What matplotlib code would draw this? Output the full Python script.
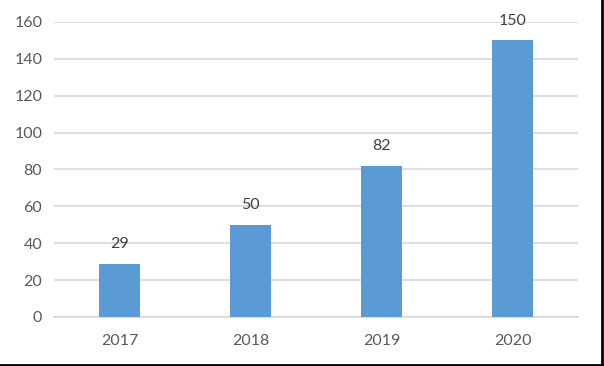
import matplotlib
matplotlib.use("Agg")
import matplotlib.pyplot as plt
from matplotlib.lines import Line2D

years = ["2017", "2018", "2019", "2020"]
values = [29, 50, 82, 150]
yticks = [0, 20, 40, 60, 80, 100, 120, 140, 160]

plt.rcParams['font.family'] = ['Lato', 'DejaVu Sans']
fig = plt.figure(figsize=(6.04, 3.66), dpi=100)
ax = fig.add_axes([0.0894, 0.1339, 0.957 - 0.0894, 0.9399 - 0.1339])

x = range(len(years))
ax.bar(x, values, width=0.31, color="#5B9BD5", zorder=3)
for xi, v in zip(x, values):
    ax.text(xi, v + 7, str(v), ha="center", va="bottom", fontsize=11.5, color="#404040")

ax.set_xlim(-0.5, len(years) - 0.5)
ax.set_ylim(0, 160)
ax.set_yticks(yticks)
ax.set_xticks(list(x))
ax.set_xticklabels(years)
ax.grid(axis="y", color="#D9D9D9", linewidth=1.2, zorder=0)
for s in ["top", "right", "left"]:
    ax.spines[s].set_visible(False)
ax.spines["bottom"].set_color("#D9D9D9")
ax.spines["bottom"].set_linewidth(1.2)
ax.tick_params(axis="both", length=0, labelsize=11.5, labelcolor="#595959")
ax.tick_params(axis="y", pad=8.5)
ax.tick_params(axis="x", pad=12)

fig.add_artist(Line2D([0, 1], [0.004, 0.004], transform=fig.transFigure, color="black", linewidth=2))
fig.add_artist(Line2D([0.997, 0.997], [0, 1], transform=fig.transFigure, color="black", linewidth=2))

fig.savefig("out.png", dpi=100)
